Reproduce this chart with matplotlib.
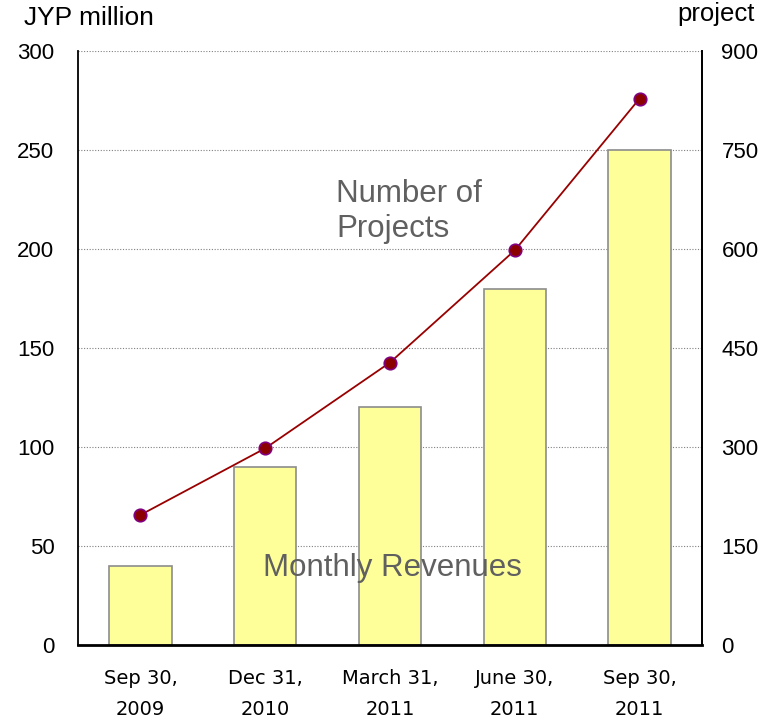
import numpy as np
import matplotlib.pyplot as plt

# period-end dates and values
fechas = ["Sep 30,\n2009", "Dec 31,\n2010", "March 31,\n2011", "June 30,\n2011", "Sep 30,\n2011"]
receita_mensal = [40, 90, 120, 180, 250]        # JYP million
num_projetos = [197, 298, 428, 598, 828]        # projects

plt.rcParams['font.family'] = ['Liberation Sans', 'DejaVu Sans']

fig = plt.figure(figsize=(7.74, 7.21), dpi=100)
ax = fig.add_axes([78 / 774, 1 - 645 / 721, 624 / 774, 594 / 721])
x = np.arange(len(fechas))

ax.bar(x, receita_mensal, width=0.5, color='#ffff99', edgecolor='#8c8c8c', linewidth=1.2, zorder=2)
ax.set_xlim(-0.5, len(fechas) - 0.5)
ax.set_ylim(0, 300)
ax.set_yticks(np.arange(0, 301, 50))
ax.yaxis.grid(True, linestyle=(0, (1, 1.5)), color='#808080', linewidth=0.8, zorder=0)
ax.set_axisbelow(True)
ax.tick_params(axis='y', length=0, pad=17, labelsize=16)
ax.tick_params(axis='x', length=0, pad=17)
ax.set_xticks(x)
ax.set_xticklabels(fechas, fontsize=14, linespacing=1.85, family=['DejaVu Sans'])
ax.spines['top'].set_visible(False)
ax.spines['left'].set_linewidth(1.3)
ax.spines['bottom'].set_linewidth(2)
ax.spines['right'].set_linewidth(1.3)

ax2 = ax.twinx()
ax2.plot(x, num_projetos, color='#990000', linewidth=1.3, marker='o', markersize=9,
         markerfacecolor='#8b0000', markeredgecolor='#800080', markeredgewidth=1.2, zorder=3)
ax2.set_ylim(0, 900)
ax2.set_yticks(np.arange(0, 901, 150))
ax2.tick_params(axis='y', length=0, pad=14, labelsize=16)
for s in ['top', 'left', 'bottom']:
    ax2.spines[s].set_visible(False)
ax2.spines['right'].set_linewidth(1.3)

fig.text(24 / 774, 1 - 18 / 721, "JYP million", fontsize=19, va='center', ha='left')
fig.text(755 / 774, 1 - 14 / 721, "project", fontsize=18.5, va='center', ha='right')

ax.text(1.57, 219, "Number of\nProjects", fontsize=22.5, color='#606060', ha='left', va='center',
        linespacing=1.25)
ax.text(2.02, 39, "Monthly Revenues", fontsize=22.5, color='#606060', ha='center', va='center')

fig.savefig("out.png", dpi=100)
